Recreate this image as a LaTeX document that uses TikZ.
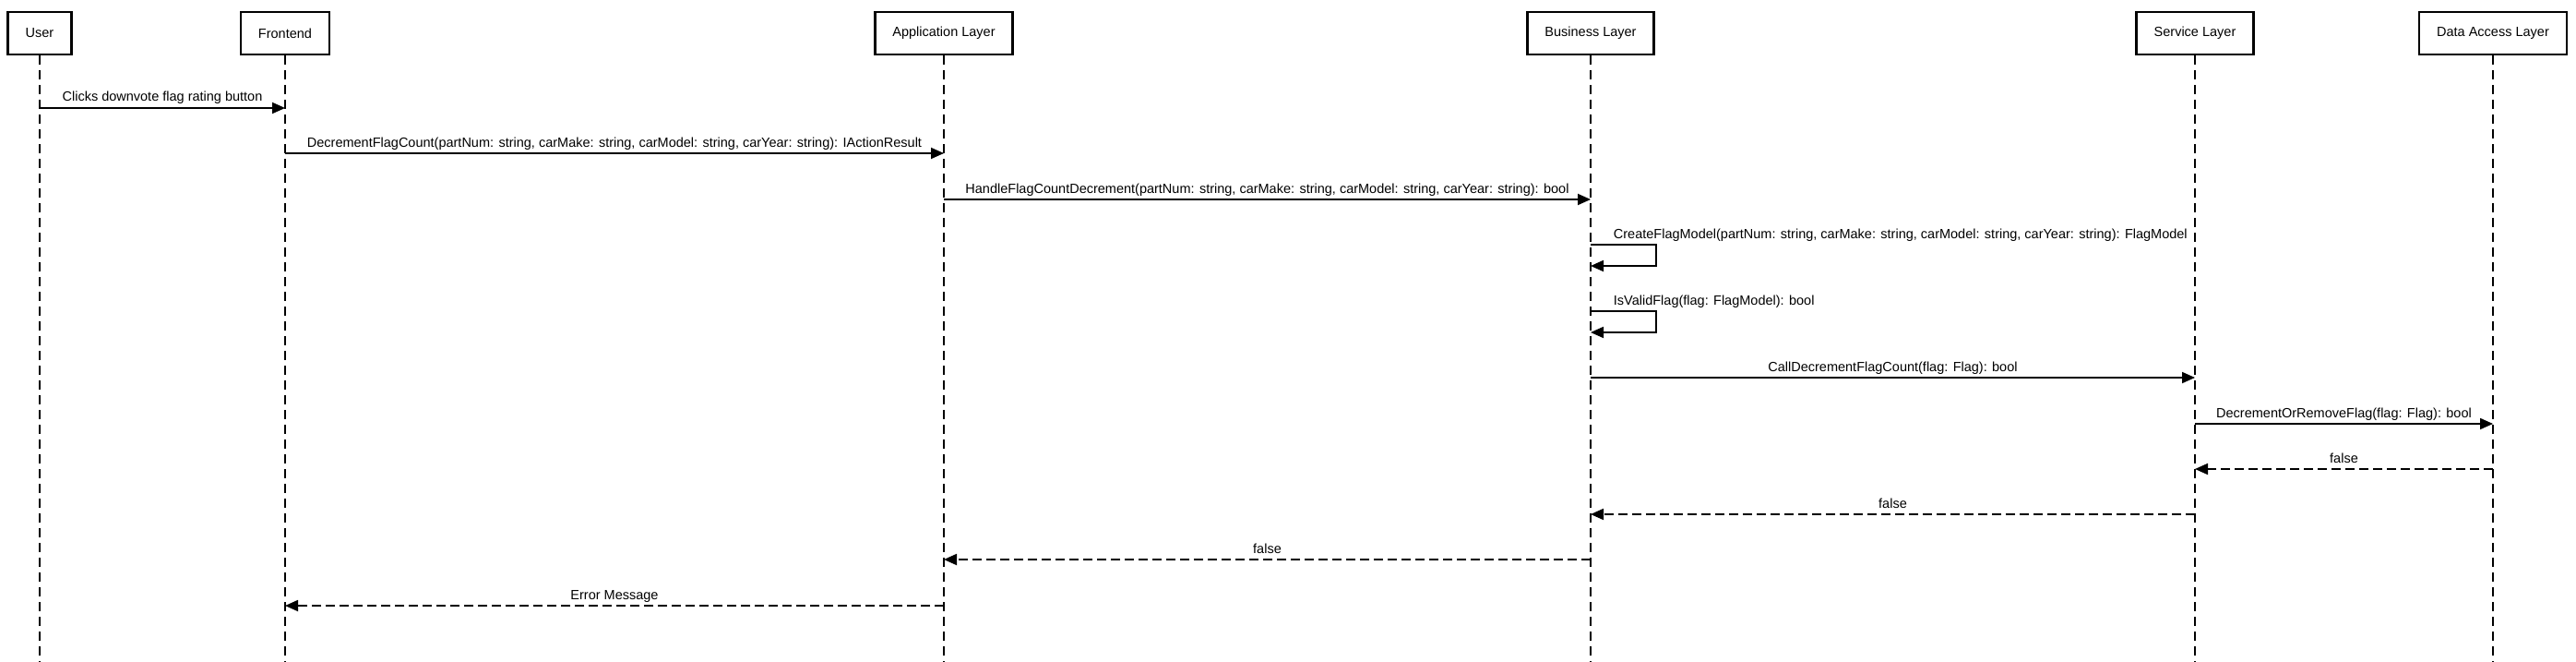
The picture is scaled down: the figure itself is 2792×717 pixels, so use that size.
\documentclass[tikz,border=0pt]{standalone}
\usepackage{fontspec}
\setmainfont{Liberation Sans}
\usepackage{tikz}
\usetikzlibrary{arrows.meta, positioning, calc}

\begin{document}
\begin{tikzpicture}[
            x=1pt, y=-1pt,
            font=\fontsize{14.5}{17}\selectfont,
            actor/.style={rectangle, draw, line width=2.5pt, fill=white, minimum height=46pt, inner xsep=19pt},
            lifeline/.style={line width=1.3pt, dash pattern=on 10pt off 6pt},
            call/.style={-{Triangle[length=14pt, width=12pt]}, line width=1.8pt},
            reply/.style={call, dash pattern=on 10pt off 5pt},
            msg/.style={midway, anchor=base, yshift=7pt, inner sep=0pt},
            selfmsg/.style={anchor=base west, xshift=24pt, yshift=7pt, inner sep=0pt}
        ]
        \fill[white] (0,0) rectangle (2792,717);
        \useasboundingbox (0,0) rectangle (2792,717);

        % Participants
        \node[actor] (user) at (43,36) {User};
        \node[actor] (front) at (309,36) {Frontend};
        \node[actor] (app) at (1023,36) {Application Layer};
        \node[actor] (biz) at (1724,36) {Business Layer};
        \node[actor] (svc) at (2379,36) {Service Layer};
        \node[actor] (dal) at (2702,36) {Data Access Layer};

        % Lifelines
        \coordinate (bottom) at (0,717);
        \foreach \a in {user, front, app, biz, svc, dal}
            \draw[lifeline] (\a.south) -- (\a |- bottom);

        % Message rows
        \foreach \n/\y in {1/117, 2/166, 3/216, 4/265, 5/288, 6/337, 7/360, 8/409, 9/459, 10/508, 11/557, 12/606, 13/656}
            \coordinate (r\n) at (0,\y);

        % Calls
        \draw[call] (user |- r1) -- node[msg] {Clicks downvote flag rating button} (front |- r1);
        \draw[call] (front |- r2) -- node[msg] {DecrementFlagCount(partNum: string, carMake: string, carModel: string, carYear: string): IActionResult} (app |- r2);
        \draw[call] (app |- r3) -- node[msg] {HandleFlagCountDecrement(partNum: string, carMake: string, carModel: string, carYear: string): bool} (biz |- r3);
        \draw[call] (biz |- r4) node[selfmsg] {CreateFlagModel(partNum: string, carMake: string, carModel: string, carYear: string): FlagModel} -- ++(71,0) |- (biz |- r5);
        \draw[call] (biz |- r6) node[selfmsg] {IsValidFlag(flag: FlagModel): bool} -- ++(71,0) |- (biz |- r7);
        \draw[call] (biz |- r8) -- node[msg] {CallDecrementFlagCount(flag: Flag): bool} (svc |- r8);
        \draw[call] (svc |- r9) -- node[msg] {DecrementOrRemoveFlag(flag: Flag): bool} (dal |- r9);

        % Replies
        \draw[reply] (dal |- r10) -- node[msg] {false} (svc |- r10);
        \draw[reply] (svc |- r11) -- node[msg] {false} (biz |- r11);
        \draw[reply] (biz |- r12) -- node[msg] {false} (app |- r12);
        \draw[reply] (app |- r13) -- node[msg] {Error Message} (front |- r13);

    \end{tikzpicture}
\end{document}
